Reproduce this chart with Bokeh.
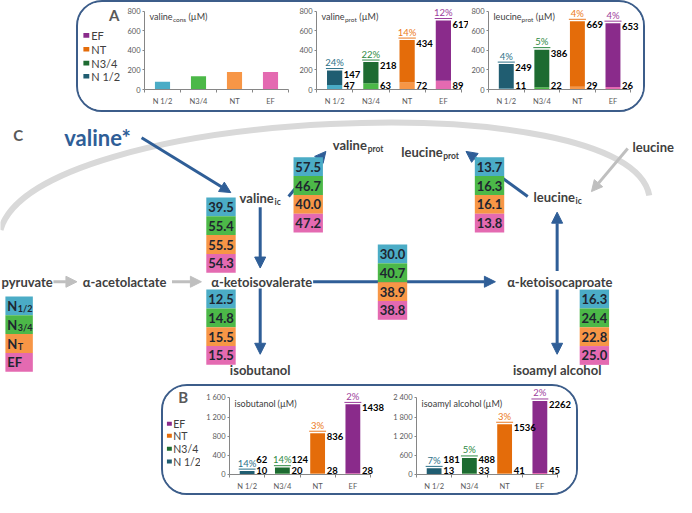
from bokeh.plotting import figure
from bokeh.models import (ColumnDataSource, Range1d, Arrow, NormalHead,
                          FixedTicker, Spacer, LabelSet)
from bokeh.layouts import row, column
from bokeh.core.properties import value
from bokeh.embed import file_html
from bokeh.resources import INLINE

# ------------------------------------------------------------------ data
groups = ["N 1/2", "N3/4", "NT", "EF"]
legend_order = ["EF", "NT", "N3/4", "N 1/2"]

valine_cons = [80, 135, 180, 180]

valine_prot_upper = [147, 218, 434, 617]
valine_prot_lower = [47, 63, 72, 89]
valine_prot_pct = ["24%", "22%", "14%", "12%"]

leucine_prot_upper = [249, 386, 669, 653]
leucine_prot_lower = [11, 22, 29, 26]
leucine_prot_pct = ["4%", "5%", "4%", "4%"]

isobutanol_upper = [62, 124, 836, 1438]
isobutanol_lower = [10, 20, 28, 28]
isobutanol_pct = ["14%", "14%", "3%", "2%"]

isoamyl_upper = [181, 488, 1536, 2262]
isoamyl_lower = [13, 33, 41, 45]
isoamyl_pct = ["7%", "5%", "3%", "2%"]

ticks_A = [0, 200, 400, 600, 800]
ticks_B1 = [0, 400, 800, 1200, 1600]
ticks_B2 = [0, 600, 1200, 1800, 2400]
labels_B1 = {1200: "1 200", 1600: "1 600"}
labels_B2 = {1200: "1 200", 1800: "1 800", 2400: "2 400"}

# flux percentages in the pathway diagram (N1/2, N3/4, NT, EF)
flux_valine_ic = [39.5, 55.4, 55.5, 54.3]
flux_valine_prot = [57.5, 46.7, 40.0, 47.2]
flux_leucine_prot = [13.7, 16.3, 16.1, 13.8]
flux_kiv_kic = [30.0, 40.7, 38.9, 38.8]
flux_isobutanol = [12.5, 14.8, 15.5, 15.5]
flux_isoamyl = [16.3, 24.4, 22.8, 25.0]

# ------------------------------------------------------------------ style
S = 0.98
FONT = "Lato"
LIGHT = ["#4BACC6", "#4CB848", "#F79646", "#E46AB1"]
DARK = ["#205D71", "#1D6B31", "#E46C0A", "#8A2B8B"]
PCTC = ["#2D7189", "#2E8A44", "#EC7A22", "#9C3C9C"]
TXT = "#404040"
BLUE = "#2F5E97"
GREY_ARROW = "#BFBFBF"

W_REG = {'a': .51, 'b': .56, 'c': .46, 'd': .56, 'e': .52, 'f': .31, 'g': .50, 'h': .55,
         'i': .23, 'j': .23, 'k': .50, 'l': .23, 'm': .83, 'n': .55, 'o': .56, 'p': .56,
         'q': .56, 'r': .36, 's': .42, 't': .34, 'u': .55, 'v': .51, 'w': .77, 'x': .49,
         'y': .51, 'z': .45, ' ': .19, '(': .31, ')': .31, 'µ': .56, 'M': .82, 'N': .74,
         '/': .37, 'T': .56, 'E': .56, 'F': .54}


def tw(s, size, bold=False):
    w = sum(W_REG.get(ch, .58) for ch in s) * size
    return w * (1.04 if bold else 1.0)


def f(v):
    return int(round(v * S))


def style_plain(p):
    p.outline_line_color = None
    p.background_fill_color = "white"
    p.border_fill_color = "white"


def txt(p, x, y, s, size, color=TXT, bold=False, align="left", baseline="middle", xo=0, yo=0):
    p.text(x=[x], y=[y], text=[s], text_font=value(FONT), text_font_size=f"{size}px",
           text_color=color, text_font_style="bold" if bold else "normal",
           text_align=align, text_baseline=baseline, x_offset=xo, y_offset=yo)


def sub_label(p, x, y, main, sub, size, sub_size, color=TXT, bold=True, yo_sub=4):
    txt(p, x, y, main, size, color, bold)
    w = tw(main, size, bold) / S
    txt(p, x + w + 0.5, y, sub, sub_size, color, bold, yo=yo_sub)


# ------------------------------------------------------------------ bar charts
XPOS = [i + 0.5 for i in range(len(groups))]
XEDGE = [float(i) for i in range(len(groups) + 1)]


def bar_chart(width, mbl, mbr, height, mbt, mbb, xmax, ytop, upp, ticks, overrides, title, sub,
              lower=None, upper=None, pct=None, single=None):
    p = figure(width=width, height=height, x_range=Range1d(0, xmax),
               y_range=Range1d(0, ytop), output_backend="svg", toolbar_location=None,
               min_border_left=mbl, min_border_right=mbr, min_border_top=mbt,
               min_border_bottom=mbb)
    style_plain(p)
    p.grid.grid_line_color = None
    for ax in (p.xaxis, p.yaxis):
        ax.major_label_text_font = FONT
        ax.major_label_text_font_size = "7.5px"
        ax.major_label_text_color = "#595959"
        ax.axis_line_color = "#868686"
        ax.major_tick_line_color = "#868686"
        ax.minor_tick_line_color = None
        ax.major_tick_in = 0
        ax.major_tick_out = 2
    p.xaxis.ticker = FixedTicker(ticks=XPOS, minor_ticks=XEDGE)
    p.xaxis.major_label_overrides = {x: g for x, g in zip(XPOS, groups)}
    p.xaxis.bounds = (0, len(groups))
    p.xaxis.major_tick_line_color = None
    p.xaxis.minor_tick_line_color = "#868686"
    p.xaxis.minor_tick_in = 0
    p.xaxis.minor_tick_out = 3
    p.xaxis.major_label_standoff = 4
    p.yaxis.major_label_standoff = 2
    p.yaxis.ticker = FixedTicker(ticks=ticks)
    p.yaxis.bounds = (0, ticks[-1])
    if overrides:
        p.yaxis.major_label_overrides = overrides

    if single is not None:
        src = ColumnDataSource(dict(x=XPOS, v=single, c=LIGHT))
        p.vbar(x="x", top="v", width=0.42, fill_color="c", line_color=None, source=src)
    else:
        tot = [a + b for a, b in zip(lower, upper)]
        src = ColumnDataSource(dict(
            x=XPOS, lo=lower, tot=tot, light=LIGHT, dark=DARK, pc=PCTC,
            hi_s=[str(v) for v in upper], lo_s=[str(v) for v in lower], pct=pct,
            hy=[max(t, 19 * upp) for t in tot],
            uy=[t + 2 * upp for t in tot],
            ux0=[x - 0.24 for x in XPOS], ux1=[x + 0.24 for x in XPOS]))
        p.vbar(x="x", bottom=0, top="lo", width=0.42, fill_color="light", line_color=None, source=src)
        p.vbar(x="x", bottom="lo", top="tot", width=0.42, fill_color="dark", line_color=None, source=src)
        common = dict(source=src, text_font=value(FONT), text_font_size="9.5px",
                      text_font_style="bold", text_color="black", text_align="left")
        p.add_layout(LabelSet(x="x", y="hy", text="hi_s", x_offset=9, y_offset=0,
                              text_baseline="top", **common))
        p.add_layout(LabelSet(x="x", y=0, text="lo_s", x_offset=9, y_offset=1,
                              text_baseline="bottom", **common))
        p.segment(x0="ux0", x1="ux1", y0="uy", y1="uy", line_color="pc", line_width=1, source=src)
        p.add_layout(LabelSet(x="x", y="tot", text="pct", source=src, text_font=value(FONT),
                              text_font_size="9.5px", text_color="pc", text_align="center",
                              text_baseline="bottom", y_offset=2.5))
    # title inside the frame
    ty = 73.5 * upp
    main, unit = title
    p.text(x=[0], y=[ty], text=[main], text_font=value(FONT), text_font_size="9px",
           text_color=TXT, text_baseline="middle", x_offset=5)
    w1 = tw(main, 9)
    if sub:
        p.text(x=[0], y=[ty], text=[sub], text_font=value(FONT), text_font_size="6.5px",
               text_color=TXT, text_baseline="middle", x_offset=5 + w1 + 0.5, y_offset=3)
        w1 += tw(sub, 6.5) + 0.5
    p.text(x=[0], y=[ty], text=[unit], text_font=value(FONT), text_font_size="9px",
           text_color=TXT, text_baseline="middle", x_offset=5 + w1 + 2.5)
    return p


def legend_fig(width, height, x0, y0, letter, lx, ly, sq_x, sq, ys, tx, tsize):
    p = figure(width=width, height=height, x_range=Range1d(x0, x0 + width / S),
               y_range=Range1d(y0 + height / S, y0), x_axis_type=None, y_axis_type=None,
               output_backend="svg", toolbar_location=None, min_border=0)
    style_plain(p)
    txt(p, lx, ly, letter, 15, "#595959", True)
    cols = [DARK[groups.index(g)] for g in legend_order]
    src = ColumnDataSource(dict(x=[sq_x] * 4, y=ys, c=cols, t=legend_order, tx=[tx] * 4))
    p.rect(x="x", y="y", width=sq, height=sq, fill_color="c", line_color=None, source=src)
    p.text(x="tx", y="y", text="t", text_font=value(FONT), text_font_size=f"{tsize}px",
           text_color=TXT, text_baseline="middle", source=src)
    return p


# panel A  (inner height 108 px, frame 85 px, one category = 36.25 px)
HA = 108
UA = 36.25
uppA = 870 / 85
legA = legend_fig(46, HA, 83, 5, "A", 114, 18, 91, 6, [45, 63, 81, 98], 96, 11)
a1 = bar_chart(167, 19, 3, HA, 2, 21, 145 / UA, 870, uppA, ticks_A, None, ("valine", "(µM)"),
               "cons", single=valine_cons)
a2 = bar_chart(177, 25, 0, HA, 2, 21, 152 / UA, 870, uppA, ticks_A, None, ("valine", "(µM)"),
               "prot", valine_prot_lower, valine_prot_upper, valine_prot_pct)
a3 = bar_chart(175, 17, 0, HA, 2, 21, 158 / UA, 870, uppA, ticks_A, None, ("leucine", "(µM)"),
               "prot", leucine_prot_lower, leucine_prot_upper, leucine_prot_pct)

# ------------------------------------------------------------------ pathway diagram
DW, DH = 676, 272
YTOP = 3 + 112 / S
d = figure(width=DW, height=DH, x_range=Range1d(3, 3 + DW / S),
           y_range=Range1d(YTOP + DH / S, YTOP), x_axis_type=None, y_axis_type=None,
           output_backend="svg", toolbar_location=None, min_border=0)
style_plain(d)

# panel B (inner height 107 px, frame 91 px, one category = 35.25 px)
HB = 107
UB = 35.25
upp1 = 1738 / 86
upp2 = 2607 / 86
YB = YTOP + DH / S + 2
legB = legend_fig(37, HB, 169, YB, "B", 184, 410, 175, 5, [443, 458, 474, 490], 179, 10.5)
b1 = bar_chart(184, 29, 0, HB, 0, 16, 155 / UB, 91 * upp1, upp1, ticks_B1, labels_B1,
               ("isobutanol", "(µM)"), "", isobutanol_lower, isobutanol_upper, isobutanol_pct)
b2 = bar_chart(192, 32, 0, HB, 0, 16, 160 / UB, 91 * upp2, upp2, ticks_B2, labels_B2,
               ("isoamyl alcohol", "(µM)"), "", isoamyl_lower, isoamyl_upper, isoamyl_pct)

# grey cell boundary arc
arc = d.bezier(x0=[3], y0=[237], x1=[665], y1=[202], cx0=[38], cy0=[112], cx1=[645], cy1=[86],
               line_color="#D9D9D9", line_width=6)
arc.level = "image"

# arrows (under the boxes)
blue_src = ColumnDataSource(dict(
    x0=[147, 268, 322, 268, 571, 571, 297, 541],
    y0=[143, 214, 290, 297, 279, 298, 203, 203],
    x1=[238, 268, 508, 268, 571, 571, 335, 478],
    y1=[199, 276, 290, 364, 219, 364, 157, 157]))
d.add_layout(Arrow(end=NormalHead(size=11, fill_color=BLUE, line_color=BLUE),
                   x_start="x0", y_start="y0", x_end="x1", y_end="y1", source=blue_src,
                   line_color=BLUE, line_width=3, level="underlay"))
grey_src = ColumnDataSource(dict(x0=[57, 178, 643], y0=[290, 290, 154],
                                 x1=[81, 208, 606], y1=[290, 290, 198]))
d.add_layout(Arrow(end=NormalHead(size=11, fill_color=GREY_ARROW, line_color=GREY_ARROW),
                   x_start="x0", y_start="y0", x_end="x1", y_end="y1", source=grey_src,
                   line_color=GREY_ARROW, line_width=3, level="underlay"))

# flux boxes
CH = 19.2
columns = [(213, 204, flux_valine_ic), (302, 163, flux_valine_prot),
           (487, 163, flux_leucine_prot), (388, 252, flux_kiv_kic),
           (213, 298, flux_isobutanol), (594, 298, flux_isoamyl)]
cx, cy, cc, cv = [], [], [], []
for (xl, yt, vals) in columns:
    for i, v in enumerate(vals):
        cx.append(xl + 15)
        cy.append(yt + CH * (i + 0.5))
        cc.append(LIGHT[i])
        cv.append(f"{v:.1f}")
box_src = ColumnDataSource(dict(x=cx, y=cy, c=cc, v=cv))
d.rect(x="x", y="y", width=30, height=CH, fill_color="c", line_color=None, source=box_src)
d.text(x="x", y="y", text="v", text_font=value(FONT), text_font_size="13px",
       text_font_style="bold", text_color="#1E2530", text_align="center",
       text_baseline="middle", source=box_src)

# legend column
leg_src = ColumnDataSource(dict(x=[22] * 4, y=[305 + CH * (i + 0.5) for i in range(4)], c=LIGHT))
d.rect(x="x", y="y", width=28, height=CH, fill_color="c", line_color=None, source=leg_src)
for i, (m, s) in enumerate([("N", "1/2"), ("N", "3/4"), ("N", "T"), ("EF", "")]):
    yy = 305 + CH * (i + 0.5)
    if s:
        sub_label(d, 10, yy, m, s, 13, 9, "#1E2530", True, yo_sub=3)
    else:
        txt(d, 10, yy, m, 13, "#1E2530", True)

# labels
txt(d, 16, 140, "C", 15, "#595959", True)
txt(d, 68, 143, "valine*", 22, BLUE, True)
sub_label(d, 247, 205, "valine", "ic", 13, 8.5)
sub_label(d, 342, 150, "valine", "prot", 13, 8.5)
sub_label(d, 412, 158, "leucine", "prot", 13, 8.5)
sub_label(d, 547, 204, "leucine", "ic", 13, 8.5)
txt(d, 648, 152, "leucine", 13, TXT, True)
txt(d, 4, 290, "pyruvate", 13, TXT, True)
txt(d, 87, 290, "α-acetolactate", 13, TXT, True)
txt(d, 218, 290, "α-ketoisovalerate", 13, TXT, True)
txt(d, 520, 290, "α-ketoisocaproate", 13, TXT, True)
txt(d, 268, 380, "isobutanol", 13, TXT, True, align="center")
txt(d, 571, 380, "isoamyl alcohol", 13, TXT, True, align="center")

# ------------------------------------------------------------------ layout
box_style = {"border": "2px solid #3C5D8A", "border-radius": "26px", "overflow": "hidden",
             "background-color": "white"}
panelA = row(legA, a1, a2, a3, styles=box_style)
panelB = row(legB, b1, b2, styles=box_style)
layout = column(row(Spacer(width=f(81 - 3)), panelA), d, row(Spacer(width=f(167 - 3)), panelB))

open("out.html", "w").write(file_html(layout, INLINE))
